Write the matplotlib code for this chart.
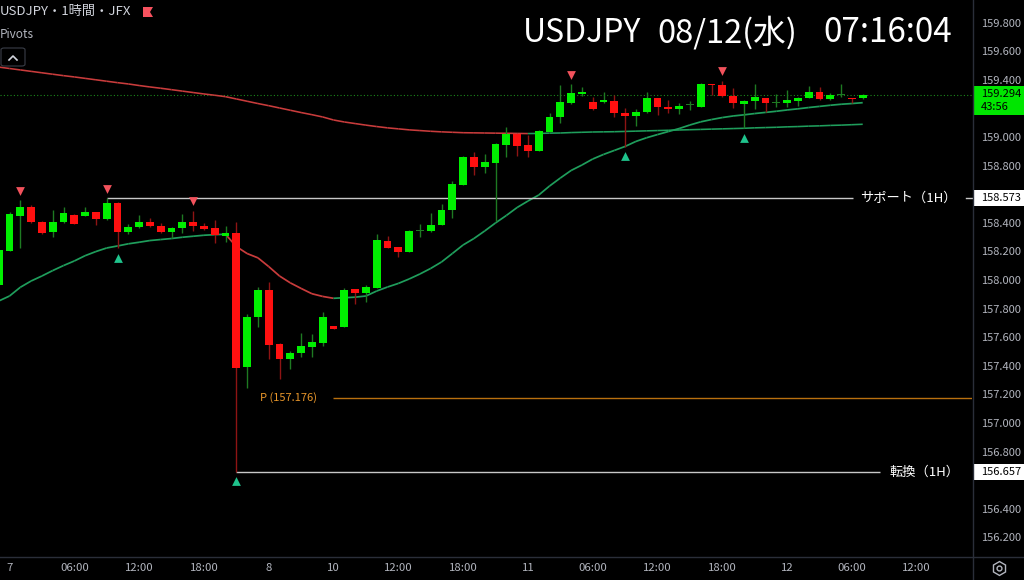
import matplotlib
matplotlib.use('Agg')
import matplotlib.pyplot as plt
from matplotlib.collections import LineCollection
from matplotlib.patches import Rectangle, Polygon, FancyBboxPatch
from matplotlib.lines import Line2D
from matplotlib.transforms import blended_transform_factory

plt.rcParams['font.family'] = ['Noto Sans CJK JP', 'DejaVu Sans']

# ---------------- data ----------------
bars = list(range(-1, 80))   # hourly bar index, 0 = 08/07 00:00
opens = [157.965, 158.205, 158.450, 158.513, 158.408, 158.334, 158.406, 158.452, 158.450, 158.473,
         158.424, 158.536, 158.334, 158.371, 158.403, 158.378, 158.334, 158.366, 158.408, 158.378,
         158.362, 158.310, 158.331, 157.390, 157.741, 157.930, 157.550, 157.448, 157.487, 157.534,
         157.557, 157.678, 157.673, 157.935, 157.907, 157.946, 158.275, 158.231, 158.198, 158.343,
         158.343, 158.387, 158.490, 158.664, 158.858, 158.792, 158.820, 158.944, 159.021, 158.944,
         158.902, 159.037, 159.138, 159.240, 159.301, 159.247, 159.245, 159.252, 159.166, 159.149,
         159.173, 159.271, 159.210, 159.194, 159.224, 159.212, 159.371, 159.364, 159.287, 159.233,
         159.254, 159.275, 159.239, 159.238, 159.254, 159.275, 159.315, 159.268, 159.291, 159.275,
         159.273]
highs = [158.224, 158.473, 158.559, 158.524, 158.416, 158.490, 158.513, 158.462, 158.508, 158.476,
         158.573, 158.545, 158.392, 158.455, 158.434, 158.397, 158.371, 158.462, 158.485, 158.401,
         158.420, 158.378, 158.403, 157.762, 157.953, 157.986, 157.556, 157.506, 157.627, 157.622,
         157.774, 157.680, 157.944, 157.937, 157.965, 158.322, 158.308, 158.234, 158.350, 158.392,
         158.466, 158.531, 158.692, 158.867, 158.895, 158.881, 158.956, 159.072, 159.024, 159.014,
         159.049, 159.166, 159.364, 159.371, 159.348, 159.278, 159.317, 159.294, 159.205, 159.194,
         159.317, 159.273, 159.259, 159.240, 159.252, 159.380, 159.371, 159.394, 159.341, 159.259,
         159.371, 159.276, 159.301, 159.329, 159.280, 159.357, 159.348, 159.310, 159.371, 159.276,
         159.301]
lows = [157.916, 158.203, 158.224, 158.399, 158.325, 158.299, 158.401, 158.392, 158.448, 158.385,
        158.420, 158.222, 158.320, 158.364, 158.374, 158.329, 158.292, 158.331, 158.345, 158.350,
        158.257, 158.268, 156.657, 157.243, 157.673, 157.451, 157.311, 157.376, 157.464, 157.459,
        157.541, 157.655, 157.671, 157.832, 157.843, 157.944, 158.224, 158.159, 158.196, 158.303,
        158.339, 158.385, 158.434, 158.661, 158.736, 158.746, 158.413, 158.860, 158.867, 158.862,
        158.899, 159.035, 159.096, 159.231, 159.289, 159.192, 159.240, 159.138, 158.930, 159.079,
        159.171, 159.154, 159.170, 159.159, 159.189, 159.210, 159.292, 159.280, 159.201, 159.061,
        159.196, 159.177, 159.208, 159.208, 159.217, 159.273, 159.262, 159.259, 159.282, 159.240,
        159.269]
closes = [158.210, 158.459, 158.513, 158.408, 158.331, 158.403, 158.466, 158.394, 158.473, 158.424,
          158.536, 158.334, 158.373, 158.408, 158.378, 158.334, 158.366, 158.408, 158.378, 158.359,
          158.315, 158.331, 157.383, 157.743, 157.930, 157.545, 157.450, 157.492, 157.538, 157.566,
          157.739, 157.657, 157.930, 157.907, 157.949, 158.278, 158.226, 158.198, 158.343, 158.346,
          158.383, 158.490, 158.669, 158.858, 158.792, 158.823, 158.949, 159.021, 158.939, 158.904,
          159.044, 159.142, 159.243, 159.310, 159.315, 159.196, 159.259, 159.166, 159.149, 159.177,
          159.271, 159.212, 159.194, 159.217, 159.227, 159.371, 159.362, 159.287, 159.236, 159.254,
          159.278, 159.240, 159.241, 159.259, 159.275, 159.315, 159.266, 159.294, 159.292, 159.268,
          159.294]

ma_long = [159.489, 159.479, 159.469, 159.459, 159.449, 159.439, 159.429, 159.420, 159.410, 159.400,
           159.390, 159.380, 159.371, 159.360, 159.350, 159.341, 159.331, 159.321, 159.311, 159.301,
           159.292, 159.282,
           159.266, 159.250, 159.234, 159.219, 159.203, 159.187, 159.171, 159.156, 159.140,
           159.119, 159.105, 159.094, 159.083, 159.073, 159.064, 159.057, 159.050, 159.045, 159.040,
           159.036, 159.033, 159.030,
           159.029, 159.028, 159.027, 159.026, 159.025, 159.024,
           159.025, 159.027, 159.028, 159.031, 159.033, 159.035, 159.036, 159.037, 159.039, 159.041,
           159.043, 159.045, 159.047, 159.049, 159.051, 159.053, 159.055, 159.057, 159.059, 159.061,
           159.064, 159.066, 159.068, 159.071, 159.073, 159.076, 159.078, 159.081, 159.083, 159.086,
           159.089]
ma_short = [157.853, 157.888, 157.949, 157.993, 158.028, 158.066, 158.101, 158.133, 158.170, 158.199,
            158.224, 158.238, 158.253, 158.264, 158.276, 158.283, 158.290, 158.299, 158.306, 158.313,
            158.317, 158.320,
            158.234, 158.185, 158.155, 158.094, 158.028, 157.980, 157.941, 157.904, 157.885, 157.872,
            157.876, 157.880, 157.888, 157.923, 157.951, 157.976, 158.007, 158.042, 158.081, 158.126,
            158.185, 158.245, 158.290, 158.343, 158.399, 158.451, 158.507, 158.552, 158.594, 158.657,
            158.713, 158.766, 158.804, 158.846, 158.878, 158.906, 158.934, 158.969, 158.995, 159.017,
            159.038, 159.059, 159.084, 159.106, 159.122, 159.136, 159.147, 159.155, 159.164, 159.172,
            159.180, 159.189, 159.197, 159.206, 159.214, 159.222, 159.229, 159.234, 159.240]

pivot_high_bars = [1, 9, 17, 52, 66]
pivot_low_bars = [10, 21, 57, 68]

time_tick_bars = [0, 6, 12, 18, 24, 30, 36, 42, 48, 54, 60, 66, 72, 78, 84]
time_tick_labels = ['7', '06:00', '12:00', '18:00', '8', '10', '12:00', '18:00', '11',
                    '06:00', '12:00', '18:00', '12', '06:00', '12:00']
price_ticks = [156.2, 156.4, 156.8, 157.0, 157.2, 157.4, 157.6, 157.8, 158.0, 158.2, 158.4,
               158.8, 159.0, 159.4, 159.6, 159.8]

support_level = 158.573
reversal_level = 156.657
pivot_level = 157.176
last_price = 159.294
countdown = '43:56'

# ---------------- figure ----------------
W, H = 1024, 580
fig = plt.figure(figsize=(W / 100, H / 100), dpi=100, facecolor='black')
ax = fig.add_axes([0, 23 / H, 972 / W, 557 / H])
ax.set_facecolor('black')
ax.set_xlim(-0.880, 89.12)
ax.set_ylim(156.063, 159.958)
for s in ax.spines.values():
    s.set_visible(False)

UP, DOWN = '#00f000', '#ff1010'
UP_W, DOWN_W = '#1e7a22', '#8e1414'

body_col, wick_col, bottoms, heights = [], [], [], []
for o, c in zip(opens, closes):
    up = c >= o
    wc = UP_W if up else DOWN_W
    wick_col.append(wc)
    if abs(c - o) < 0.005:
        body_col.append(wc)
    else:
        body_col.append(UP if up else DOWN)
    bottoms.append(min(o, c))
    heights.append(max(abs(c - o), 0.007))

ax.vlines(bars, lows, highs, colors=wick_col, linewidth=1.0, zorder=3)
ax.bar(bars, heights, bottom=bottoms, width=0.71, color=body_col, linewidth=0, zorder=4)

# moving averages coloured by slope
def ma_line(vals, lw):
    segs, cols = [], []
    prev = '#1f9e5c'
    for i in range(len(vals) - 1):
        d = vals[i + 1] - vals[i]
        col = '#1f9e5c' if d > 0 else ('#c93c3c' if d < 0 else prev)
        prev = col
        segs.append([(bars[i], vals[i]), (bars[i + 1], vals[i + 1])])
        cols.append(col)
    ax.add_collection(LineCollection(segs, colors=cols, linewidths=lw, zorder=2))

ma_line(ma_long, 1.15)
ma_line(ma_short, 1.25)

# last price dotted line
ax.axhline(last_price, color='#1c8a1c', linestyle=(0, (1, 2)), linewidth=0.8, zorder=1)

# horizontal levels
ax.hlines(support_level, 9, 78.1, color='#c8c8c8', linewidth=1.0, zorder=2)
ax.text(78.75, support_level, 'サポート（1H）', color='white', fontsize=9.5, va='center', ha='left')
ax.hlines(reversal_level, 21, 80.6, color='#c8c8c8', linewidth=1.0, zorder=2)
ax.text(81.45, reversal_level, '転換（1H）', color='white', fontsize=9.5, va='center', ha='left')
ax.hlines(pivot_level, 29.95, 89.2, color='#b8700f', linewidth=1.0, zorder=2)
ax.text(28.5, pivot_level, 'P (157.176)', color='#e8962a', fontsize=8, va='center', ha='right')

# pivot markers
ax.scatter(pivot_high_bars, [highs[bars.index(b)] + 0.066 for b in pivot_high_bars],
           marker='v', s=40, color='#f2525c', linewidths=0, zorder=5)
ax.scatter(pivot_low_bars, [lows[bars.index(b)] - 0.066 for b in pivot_low_bars],
           marker='^', s=40, color='#1fc38c', linewidths=0, zorder=5)

# axes ticks
ax.set_xticks(time_tick_bars, time_tick_labels)
ax.tick_params(axis='x', length=0, pad=4.5, labelsize=8.2, labelcolor='#b2b5be')
ax.yaxis.tick_right()
ax.set_yticks(price_ticks, [f'{p:.3f}' for p in price_ticks])
ax.tick_params(axis='y', length=0, pad=6.3, labelsize=8, labelcolor='#b2b5be')

# price axis boxes
trans = blended_transform_factory(fig.transFigure, ax.transData)
for lvl in (support_level, reversal_level):
    ax.add_patch(Rectangle((973 / W, lvl - 8.3 / 143), 51 / W, 16.6 / 143, transform=trans,
                           facecolor='white', edgecolor='none', clip_on=False, zorder=6))
    ax.text(981 / W, lvl, f'{lvl:.3f}', transform=trans, color='black', fontsize=8,
            va='center', ha='left', clip_on=False, zorder=7)
ax.add_patch(Rectangle((973 / W, 159.154), 51 / W, 0.203, transform=trans,
                       facecolor='#00e600', edgecolor='none', clip_on=False, zorder=6))
ax.text(981 / W, 159.299, f'{last_price:.3f}', transform=trans, color='black', fontsize=8,
        va='center', ha='left', clip_on=False, zorder=7)
ax.text(981 / W, 159.208, countdown, transform=trans, color='black', fontsize=8,
        va='center', ha='left', clip_on=False, zorder=7)
ax.plot([966 / W, 972 / W], [support_level, support_level], transform=trans, color='#c8c8c8',
        linewidth=1, clip_on=False)

# separators
fig.add_artist(Line2D([973 / W, 973 / W], [0, 1], color='#2a2e39', linewidth=1))
fig.add_artist(Line2D([0, 1], [23 / H, 23 / H], color='#2a2e39', linewidth=1))

# header texts
def fy(y):
    return 1 - y / H

fig.text(523 / W, fy(33), 'USDJPY', fontsize=23, color='white', va='center', ha='left')
fig.text(657 / W, fy(33), '08/12(水)', fontsize=23.5, color='white', va='center', ha='left')
fig.text(823 / W, fy(33), '07:16:04', fontsize=24, color='white', va='center', ha='left')
fig.text(0, fy(12), 'USDJPY・1時間・JFX', fontsize=9.5, color='#d1d4dc', va='center', ha='left')
fig.add_artist(Polygon([(143 / W, fy(7)), (153 / W, fy(7)), (150 / W, fy(12)), (153 / W, fy(17)),
                        (143 / W, fy(17))], closed=True, transform=fig.transFigure,
                       facecolor='#f7525f', edgecolor='none'))
fig.text(0, fy(34), 'Pivots', fontsize=8.5, color='#b2b5be', va='center', ha='left')
fig.add_artist(FancyBboxPatch((1 / W, fy(66)), 24 / W, 18 / H, boxstyle='round,pad=0,rounding_size=0.003',
                              transform=fig.transFigure, facecolor='black', edgecolor='#3a3e48',
                              linewidth=0.8))
fig.add_artist(Line2D([9 / W, 13 / W, 17 / W], [fy(60), fy(56), fy(60)], color='#d1d4dc', linewidth=1.2))

# settings icon
fig.add_artist(Line2D([999 / W], [fy(568)], marker='h', markersize=10, markerfacecolor='none',
                      markeredgecolor='#b2b5be', markeredgewidth=1))
fig.add_artist(Line2D([999 / W], [fy(568)], marker='o', markersize=3.5, markerfacecolor='none',
                      markeredgecolor='#b2b5be', markeredgewidth=1))

fig.savefig('out.png', dpi=100, facecolor='black')
